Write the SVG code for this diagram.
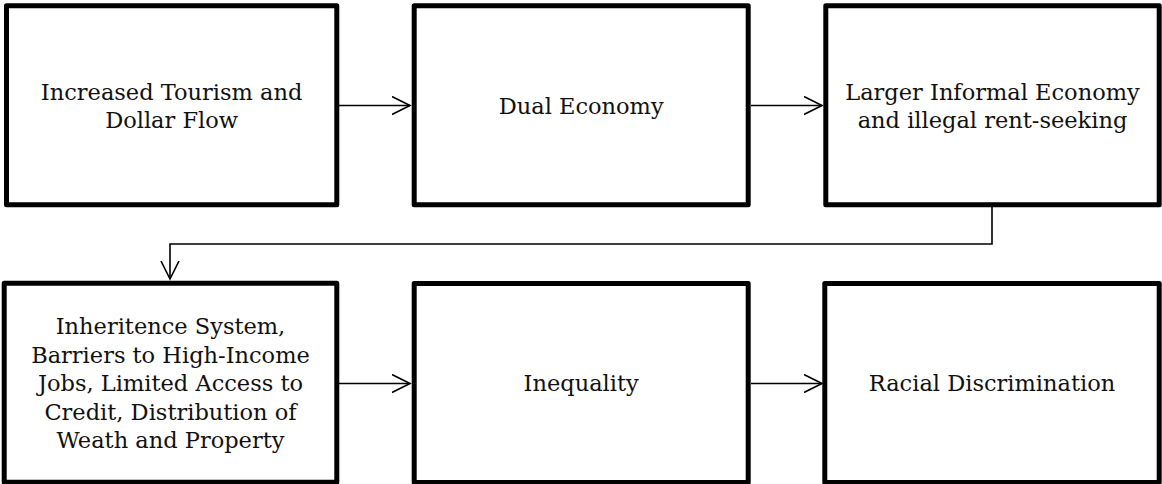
<svg xmlns="http://www.w3.org/2000/svg" width="1162" height="484" viewBox="0 0 1162 484">
<defs>
<style>
.box{fill:#fff;stroke:#000;stroke-width:5;stroke-linejoin:round}
.t{font-family:"DejaVu Serif","Liberation Serif",serif;font-size:22.5px;fill:#111;text-anchor:middle}
.c{fill:none;stroke:#000;stroke-width:1.6}
</style>
<marker id="ah" markerWidth="20" markerHeight="20" refX="18" refY="10" orient="auto" markerUnits="userSpaceOnUse">
<path d="M0,1 L18,10 L0,19" fill="none" stroke="#000" stroke-width="1.6"/>
</marker>
</defs>
<rect width="1162" height="484" fill="#fff"/>
<g id="connectors">
<line class="c" x1="339" y1="105.5" x2="410" y2="105.5" marker-end="url(#ah)"/>
<line class="c" x1="751" y1="105.5" x2="822" y2="105.5" marker-end="url(#ah)"/>
<polyline class="c" points="992,207 992,244 170,244 170,279" marker-end="url(#ah)"/>
<line class="c" x1="339" y1="383.5" x2="410" y2="383.5" marker-end="url(#ah)"/>
<line class="c" x1="751" y1="383.5" x2="822" y2="383.5" marker-end="url(#ah)"/>
</g>
<g id="n1"><rect class="box" x="6.5" y="5.8" width="330.3" height="199"/>
<text class="t" x="171.6" y="100">Increased Tourism and</text>
<text class="t" x="171.6" y="128">Dollar Flow</text></g>
<g id="n2"><rect class="box" x="414.2" y="5.8" width="334" height="199"/>
<text class="t" x="581.2" y="114">Dual Economy</text></g>
<g id="n3"><rect class="box" x="825.8" y="5.8" width="333.4" height="199"/>
<text class="t" x="992.5" y="100">Larger Informal Economy</text>
<text class="t" x="992.5" y="128">and illegal rent-seeking</text></g>
<g id="n4"><rect class="box" x="4.2" y="283.3" width="332.6" height="199"/>
<text class="t" x="170.5" y="334">Inheritence System,</text>
<text class="t" x="170.5" y="362.5">Barriers to High-Income</text>
<text class="t" x="170.5" y="391">Jobs, Limited Access to</text>
<text class="t" x="170.5" y="419.5">Credit, Distribution of</text>
<text class="t" x="170.5" y="448">Weath and Property</text></g>
<g id="n5"><rect class="box" x="414.2" y="283.5" width="334" height="199"/>
<text class="t" x="581.2" y="390.5">Inequality</text></g>
<g id="n6"><rect class="box" x="824.8" y="283.5" width="334.4" height="199"/>
<text class="t" x="992" y="390.5">Racial Discrimination</text></g>
</svg>
